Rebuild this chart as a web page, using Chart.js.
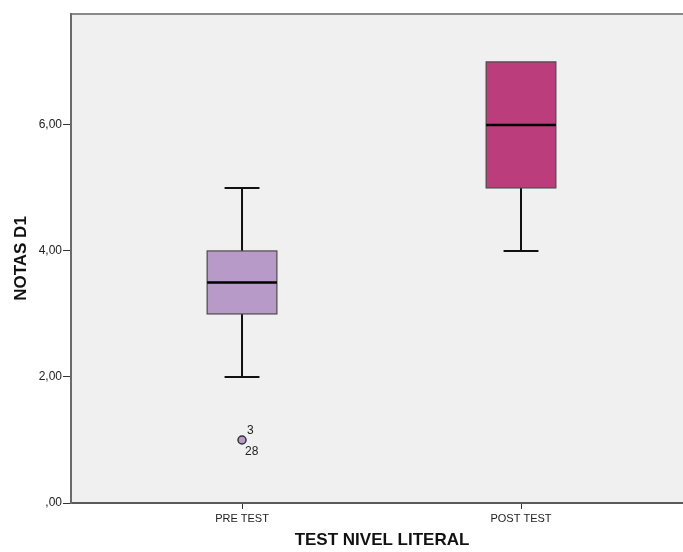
<!DOCTYPE html>
<html>
<head>
<meta charset="utf-8">
<script src="https://cdn.jsdelivr.net/npm/chart.js@4.4.1/dist/chart.umd.min.js"></script>
<style>
  html, body { margin: 0; padding: 0; background: #ffffff; overflow: hidden; width: 683px; height: 552px; }
  #wrap { width: 683px; height: 552px; overflow: hidden; }
  canvas { display: block; }
</style>
</head>
<body>
<div id="wrap"><canvas id="c" width="693" height="552" style="width:693px;height:552px"></canvas></div>
<script>
// ---- data ----
const categories = ['PRE TEST', 'POST TEST'];
const whiskerLow = [2, 4];
const q1 = [3, 5];
const median = [3.5, 6];
const q3 = [4, 7];
const whiskerHigh = [5, 7];
const outlierCategory = [1];      // index position (1 = PRE TEST)
const outlierValue = [1];
const outlierLabels = [['3', '28']];
const yTicks = [0, 2, 4, 6];
const boxColors = ['#b89ac9', '#bb3d7c'];

const boxWidth = 0.25;
const capWidth = 0.125;

const boxPlugin = {
  id: 'boxPlugin',
  beforeDraw(chart) {
    const { ctx, chartArea: a } = chart;
    ctx.save();
    ctx.fillStyle = '#f0f0f0';
    ctx.fillRect(a.left, a.top, a.right - a.left, a.bottom - a.top);
    ctx.strokeStyle = '#8a8a8a';
    ctx.lineWidth = 2;
    ctx.beginPath();
    ctx.moveTo(a.left, a.top);
    ctx.lineTo(a.right, a.top);
    ctx.stroke();
    ctx.restore();
  },
  beforeDatasetsDraw(chart) {
    const { ctx } = chart;
    const xs = chart.scales.x, ys = chart.scales.y;
    ctx.save();
    categories.forEach((c, i) => {
      const xv = i + 1;
      const xc = xs.getPixelForValue(xv);
      const bl = xs.getPixelForValue(xv - boxWidth / 2);
      const br = xs.getPixelForValue(xv + boxWidth / 2);
      const cl = xs.getPixelForValue(xv - capWidth / 2);
      const cr = xs.getPixelForValue(xv + capWidth / 2);
      const yLo = ys.getPixelForValue(whiskerLow[i]);
      const yHi = ys.getPixelForValue(whiskerHigh[i]);
      const yQ1 = ys.getPixelForValue(q1[i]);
      const yQ3 = ys.getPixelForValue(q3[i]);
      const yMed = ys.getPixelForValue(median[i]);
      // whiskers
      ctx.strokeStyle = '#111';
      ctx.lineWidth = 2;
      ctx.beginPath();
      ctx.moveTo(xc, yQ1); ctx.lineTo(xc, yLo);
      ctx.moveTo(cl, yLo); ctx.lineTo(cr, yLo);
      if (whiskerHigh[i] > q3[i]) {
        ctx.moveTo(xc, yQ3); ctx.lineTo(xc, yHi);
        ctx.moveTo(cl, yHi); ctx.lineTo(cr, yHi);
      }
      ctx.stroke();
      // box
      ctx.fillStyle = boxColors[i];
      ctx.fillRect(bl, yQ3, br - bl, yQ1 - yQ3);
      ctx.strokeStyle = '#4a4a4a';
      ctx.lineWidth = 1.2;
      ctx.strokeRect(bl, yQ3, br - bl, yQ1 - yQ3);
      // median
      ctx.strokeStyle = '#000';
      ctx.lineWidth = 2.5;
      ctx.beginPath();
      ctx.moveTo(bl, yMed); ctx.lineTo(br, yMed);
      ctx.stroke();
    });
    ctx.restore();
  },
  afterDatasetsDraw(chart) {
    const { ctx } = chart;
    const xs = chart.scales.x, ys = chart.scales.y;
    ctx.save();
    ctx.fillStyle = '#222';
    ctx.font = '12px "Liberation Sans", Arial, sans-serif';
    ctx.textBaseline = 'middle';
    ctx.textAlign = 'left';
    outlierValue.forEach((v, k) => {
      const px = xs.getPixelForValue(outlierCategory[k]);
      const py = ys.getPixelForValue(v);
      const labs = outlierLabels[k];
      ctx.fillText(labs[0], px + 5, py - 9);
      ctx.fillText(labs[1], px + 3, py + 12);
    });
    ctx.restore();
  }
};

const fmt = v => (v === 0 ? ',00' : v.toFixed(2).replace('.', ','));

new Chart(document.getElementById('c'), {
  type: 'scatter',
  data: {
    datasets: [{
      data: outlierValue.map((v, k) => ({ x: outlierCategory[k], y: v })),
      pointRadius: 4,
      pointHoverRadius: 4,
      backgroundColor: boxColors[0],
      borderColor: '#333',
      borderWidth: 1.5
    }]
  },
  options: {
    responsive: false,
    maintainAspectRatio: false,
    devicePixelRatio: 1,
    animation: false,
    layout: { autoPadding: false, padding: { top: 14, left: 0, right: 0, bottom: 0 } },
    plugins: { legend: { display: false }, tooltip: { enabled: false } },
    scales: {
      x: {
        type: 'linear',
        min: 0.387,
        max: 2.6165,
        afterBuildTicks: s => { s.ticks = categories.map((c, i) => ({ value: i + 1 })); },
        afterFit: s => { s.height = 49; s.paddingLeft = 0; s.paddingRight = 0; },
        ticks: {
          callback: v => categories[v - 1] || '',
          font: { family: '"Liberation Sans", Arial, sans-serif', size: 11 },
          color: '#222',
          padding: 3,
          maxRotation: 0,
          autoSkip: false
        },
        grid: { display: true, drawOnChartArea: false, drawTicks: true, tickLength: 6, color: '#333', lineWidth: 1 },
        border: { display: true, color: '#5a5a5a', width: 2 },
        title: {
          display: true,
          text: 'TEST NIVEL LITERAL',
          font: { family: '"Liberation Sans", Arial, sans-serif', size: 17, weight: 'bold' },
          color: '#111',
          padding: { top: 0, bottom: 1 }
        }
      },
      y: {
        type: 'linear',
        min: 0,
        max: 7.76,
        afterBuildTicks: s => { s.ticks = yTicks.map(v => ({ value: v })); },
        afterFit: s => { s.width = 71; s.paddingTop = 0; s.paddingBottom = 0; },
        ticks: {
          callback: v => fmt(v),
          font: { family: '"Liberation Sans", Arial, sans-serif', size: 12 },
          color: '#222',
          padding: 1
        },
        grid: { display: true, drawOnChartArea: false, drawTicks: true, tickLength: 8, color: '#333', lineWidth: 1 },
        border: { display: true, color: '#6a6a6a', width: 2 },
        title: {
          display: true,
          text: 'NOTAS D1',
          font: { family: '"Liberation Sans", Arial, sans-serif', size: 17, weight: 'bold' },
          color: '#111',
          padding: { top: 11, bottom: 0 }
        }
      }
    }
  },
  plugins: [boxPlugin]
});
</script>
</body>
</html>
